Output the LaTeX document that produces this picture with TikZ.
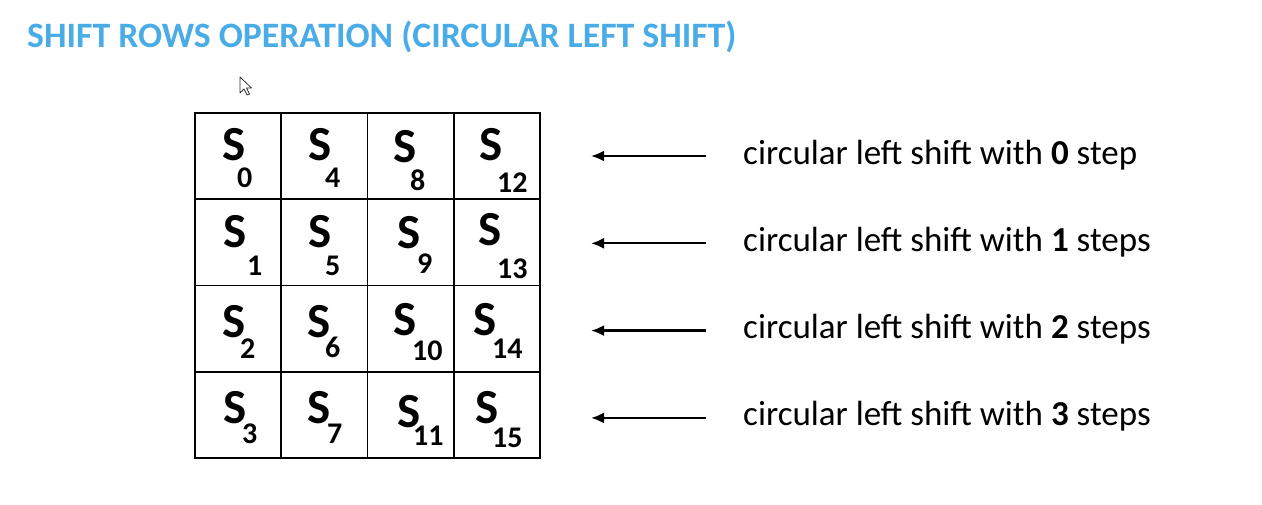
\documentclass[tikz,border=0pt]{standalone}
\usepackage{fontspec}
\setmainfont{Carlito}
\usepackage{xcolor}
\usetikzlibrary{arrows.meta}
\definecolor{titleblue}{RGB}{74,172,230}
\newcommand{\sidxfont}{\fontsize{30}{35}\selectfont\bfseries}
\tikzset{
  title/.style={anchor=base west, inner sep=0, text=titleblue, font=\fontsize{35.7}{40}\selectfont\bfseries},
  sname/.style={anchor=base west, inner sep=0, font=\fontsize{49}{55}\selectfont\bfseries},
  shifttext/.style={anchor=base west, inner sep=0, font=\fontsize{35}{40}\selectfont},
  shiftarrow/.style={black, line width=2.3pt, -{Latex[length=13pt,width=11pt]}}
}

\begin{document}
\begin{tikzpicture}[x=1pt,y=-1pt]
\useasboundingbox (0,0) rectangle (1262,504);
\node[title] (head) at (27,47) {SHIFT ROWS OPERATION (CIRCULAR LEFT SHIFT)};

% mouse pointer
\filldraw[fill=white, draw=black!80, line width=0.8pt, line join=round]
  (240,77) -- (240,93) -- (244,89) -- (247,95) -- (249.5,94) -- (246.5,88) -- (251.5,88) -- cycle;

% state matrix
\draw[line width=1.8pt] (195,113) rectangle (540,458);
\foreach \k in {1,2,3} {
 \draw[line width=1.8pt] (195+86.25*\k,113) -- (195+86.25*\k,458);
 \draw[line width=1.8pt] (195,113+86.25*\k) -- (540,113+86.25*\k);
}

\foreach \i/\sx/\sy/\bx/\by [evaluate=\bx as \dx using \bx-\sx, evaluate=\by as \dy using \by-\sy] in {
  0/222/160/237/187, 4/308/160/325/187, 8/393/162/410/190, 12/479/160/497/192,
  1/223/247/247/275, 5/308/247/325/275, 9/397/248/417/273, 13/478/245/497/278,
  2/222/337/240/358, 6/307/337/325/357, 10/393/335/412/360, 14/473/335/492/358,
  3/223/423/242/443, 7/307/423/327/443, 11/397/427/413/445, 15/475/423/492/447} {
 \node[sname] (s\i) at (\sx,\sy) {\makebox[0pt][l]{S}\hspace*{\dx pt}\raisebox{-\dy pt}{\sidxfont\i}};
}

% shift per row
\foreach \r/\n/\w [evaluate=\r as \ya using 156+87.3*\r, evaluate=\r as \yb using 164+87.3*\r] in {0/0/step,1/1/steps,2/2/steps,3/3/steps} {
 \coordinate (from\r) at (706,\ya);
 \coordinate (to\r) at (591,\ya);
 \draw[shiftarrow] (from\r) -- (to\r);
 \node[shifttext] (txt\r) at (743,\yb) {circular left shift with \textbf{\n} \w};
}
\end{tikzpicture}
\end{document}
